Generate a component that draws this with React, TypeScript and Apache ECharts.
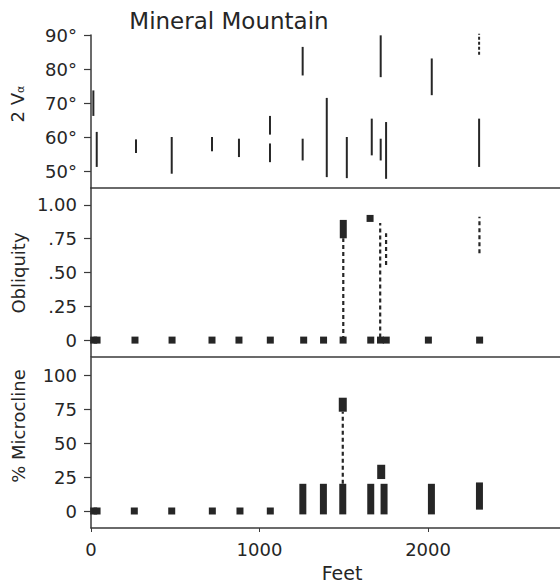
import React, { useEffect, useRef } from "react";
import * as echarts from "echarts";

// ---- axis ticks ----
const feetTicks = [0, 1000, 2000];
const twoVTicks = [50, 60, 70, 80, 90];
const obliquityTicks = [0, 0.25, 0.5, 0.75, 1];
const microclineTicks = [0, 25, 50, 75, 100];

// ---- Panel 1: 2Vα ranges [feet, low°, high°] ----
const twoVRanges: number[][] = [
  [14, 66.2, 73.7],
  [34, 51.2, 61.5],
  [267, 55.3, 59.3],
  [479, 49.2, 60],
  [718, 55.8, 60],
  [878, 54.1, 59.5],
  [1062, 60.7, 66.2],
  [1062, 52.6, 58.1],
  [1256, 78.1, 86.5],
  [1256, 53.1, 59.5],
  [1399, 48.2, 71.5],
  [1518, 47.9, 60],
  [1666, 54.6, 65.4],
  [1719, 77.6, 89.9],
  [1719, 53.1, 59.5],
  [1751, 47.7, 64.4],
  [2022, 72.3, 83.1],
  [2303, 51.2, 65.4],
];
const twoVDashedRanges: number[][] = [[2303, 84.2, 90.4]];

// ---- Panel 2: Obliquity ----
const obliquityZeroFeet = [16, 36, 261, 481, 718, 878, 1064, 1262, 1380, 1496, 1660, 1718, 1752, 2002, 2306];
const obliquityBlocks: number[][] = [[1497, 0.753, 0.889]];
const obliquityPoints: number[][] = [[1656, 0.9]];
const obliquityDashed: number[][] = [
  [1497, 0, 0.753],
  [1716, 0.02, 0.866],
  [1751, 0.556, 0.79],
  [2305, 0.642, 0.913],
];

// ---- Panel 3: % Microcline ----
const microclineZeroFeet = [16, 36, 257, 479, 720, 884, 1064];
const microclineBars: number[][] = [
  [1257, -2.5, 20],
  [1379, -2.5, 20],
  [1494, -2.5, 20],
  [1660, -2.5, 20],
  [1739, -2.5, 20],
  [2020, -2.5, 20],
  [2305, 1, 21],
];
const microclineBlocks: number[][] = [
  [1494, 73, 83.3],
  [1722, 23.5, 34],
];
const microclineDashed: number[][] = [[1494, 20, 73]];

const X_MAX = 2783;
const INK = "#262626";
const AXIS = "#3a3a3a";
const FONT = "DejaVu Sans";

const vLine = (dash: number[] | null, width: number) => (_p: any, api: any) => {
  const a = api.coord([api.value(0), api.value(1)]);
  const b = api.coord([api.value(0), api.value(2)]);
  return {
    type: "line",
    shape: { x1: a[0], y1: a[1], x2: b[0], y2: b[1] },
    style: { stroke: INK, lineWidth: width, lineDash: dash || undefined, fill: null },
  };
};

const vRect = (w: number) => (_p: any, api: any) => {
  const top = api.coord([api.value(0), api.value(2)]);
  const bot = api.coord([api.value(0), api.value(1)]);
  return {
    type: "rect",
    shape: { x: top[0] - w / 2, y: top[1], width: w, height: bot[1] - top[1] },
    style: { fill: INK },
  };
};

const makeX = (i: number) => ({
  type: "value",
  gridIndex: i,
  min: 0,
  max: X_MAX,
  axisLine: { show: true, onZero: false, lineStyle: { color: AXIS, width: 1.5 } },
  axisTick: i === 2
    ? { show: true, inside: false, length: 4, customValues: feetTicks, lineStyle: { color: AXIS, width: 1 } }
    : { show: false },
  axisLabel: i === 2
    ? {
        show: true, customValues: feetTicks, margin: 12, fontSize: 18, fontFamily: FONT, color: INK,
        formatter: (v: number) => String(v),
      }
    : { show: false },
  splitLine: { show: false },
});

const makeY = (i: number, min: number, max: number, ticks: number[], fmt: (v: number) => string) => ({
  type: "value",
  gridIndex: i,
  min,
  max,
  axisLine: { show: true, onZero: false, lineStyle: { color: AXIS, width: 1.5 } },
  axisTick: { show: true, inside: false, length: 7, customValues: ticks, lineStyle: { color: AXIS, width: 1.2 } },
  axisLabel: { show: true, customValues: ticks, formatter: fmt, margin: 14, fontSize: 18, fontFamily: FONT, color: INK },
  splitLine: { show: false },
});

const obFmt = (v: number) => {
  if (Math.abs(v) < 1e-9) return "0";
  if (Math.abs(v - 1) < 1e-9) return "1.00";
  return "." + Math.round(v * 100).toString();
};

export default function App() {
  const ref = useRef<HTMLDivElement>(null);
  useEffect(() => {
    if (!ref.current) return;
    const chart = echarts.init(ref.current, null, { renderer: "svg" });
    const sq = { color: INK, opacity: 1 };
    const option: any = {
      animation: false,
      backgroundColor: "#ffffff",
      grid: [
        { left: 91, right: 0, top: 35, height: 153 },
        { left: 91, right: 0, top: 188, height: 169 },
        { left: 91, right: 0, top: 358, height: 170 },
      ],
      xAxis: [makeX(0), makeX(1), makeX(2)],
      yAxis: [
        makeY(0, 45, 90, twoVTicks, (v: number) => `${v}°`),
        makeY(1, -0.125, 1.125, obliquityTicks, obFmt),
        makeY(2, -12.5, 112.5, microclineTicks, (v: number) => `${v}`),
      ],
      series: [
        { type: "custom", xAxisIndex: 0, yAxisIndex: 0, data: twoVRanges, renderItem: vLine(null, 2), silent: true },
        { type: "custom", xAxisIndex: 0, yAxisIndex: 0, data: twoVDashedRanges, renderItem: vLine([3, 2], 2), silent: true },
        {
          type: "scatter", xAxisIndex: 1, yAxisIndex: 1, symbol: "rect", symbolSize: 7,
          data: obliquityZeroFeet.map((f) => [f, 0]), itemStyle: sq, silent: true,
        },
        {
          type: "scatter", xAxisIndex: 1, yAxisIndex: 1, symbol: "rect", symbolSize: 7,
          data: obliquityPoints, itemStyle: sq, silent: true,
        },
        { type: "custom", xAxisIndex: 1, yAxisIndex: 1, data: obliquityBlocks, renderItem: vRect(7), silent: true },
        { type: "custom", xAxisIndex: 1, yAxisIndex: 1, data: obliquityDashed, renderItem: vLine([4, 3], 2.2), silent: true },
        {
          type: "scatter", xAxisIndex: 2, yAxisIndex: 2, symbol: "rect", symbolSize: 7,
          data: microclineZeroFeet.map((f) => [f, 0]), itemStyle: sq, silent: true,
        },
        { type: "custom", xAxisIndex: 2, yAxisIndex: 2, data: microclineBars, renderItem: vRect(7), silent: true },
        { type: "custom", xAxisIndex: 2, yAxisIndex: 2, data: microclineBlocks, renderItem: vRect(8), silent: true },
        { type: "custom", xAxisIndex: 2, yAxisIndex: 2, data: microclineDashed, renderItem: vLine([4, 3], 2.2), silent: true },
      ],
      graphic: [
        {
          type: "text", x: 229, y: 21,
          style: { text: "Mineral Mountain", fontSize: 23, fontFamily: FONT, fill: INK, align: "center", verticalAlign: "middle" },
        },
        {
          type: "text", x: 17, y: 104, rotation: Math.PI / 2,
          style: {
            text: "2 V{s|α}", fontSize: 18, fontFamily: FONT, fill: INK, align: "center", verticalAlign: "middle",
            rich: { s: { fontSize: 11, fontFamily: FONT, fill: INK, verticalAlign: "bottom" } },
          },
        },
        {
          type: "text", x: 18, y: 273, rotation: Math.PI / 2,
          style: { text: "Obliquity", fontSize: 18, fontFamily: FONT, fill: INK, align: "center", verticalAlign: "middle" },
        },
        {
          type: "text", x: 18, y: 426, rotation: Math.PI / 2,
          style: { text: "% Microcline", fontSize: 18, fontFamily: FONT, fill: INK, align: "center", verticalAlign: "middle" },
        },
        {
          type: "text", x: 342, y: 573,
          style: { text: "Feet", fontSize: 19, fontFamily: FONT, fill: INK, align: "center", verticalAlign: "middle" },
        },
      ],
    };
    chart.setOption(option);
    return () => chart.dispose();
  }, []);
  return (
    <div
      ref={ref}
      style={{ position: "absolute", left: 0, top: 0, width: 560, height: 587, background: "#ffffff" }}
    />
  );
}
